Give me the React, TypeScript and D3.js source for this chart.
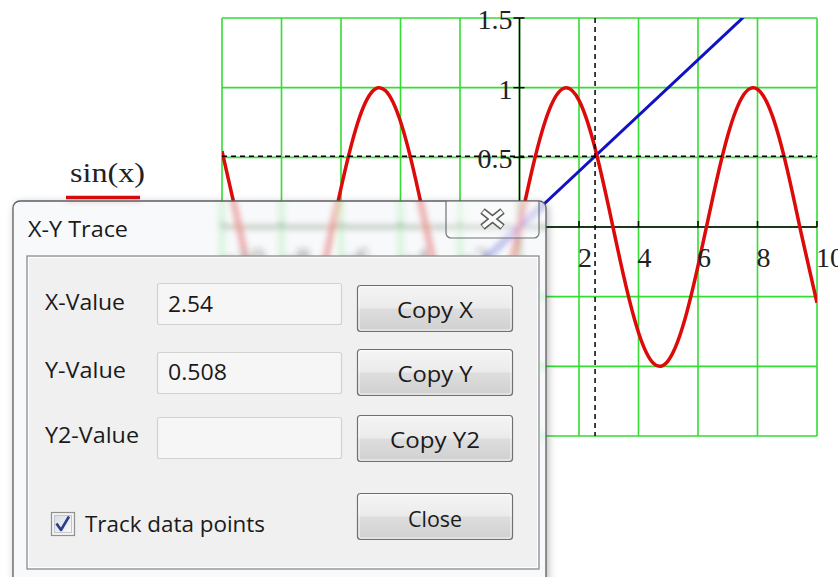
import React from "react";
import * as d3 from "d3";

const W = 838;
const H = 577;

// sin(x) samples
const sinX = [
  -10, -9.5, -9, -8.5, -8, -7.5, -7, -6.5, -6, -5.5, -5, -4.5, -4, -3.5, -3, -2.5, -2, -1.5, -1, -0.5,
  0, 0.5, 1, 1.5, 2, 2.5, 3, 3.5, 4, 4.5, 5, 5.5, 6, 6.5, 7, 7.5, 8, 8.5, 9, 9.5, 10,
];
const sinY = [
  0.544, 0.075, -0.412, -0.798, -0.989, -0.938, -0.657, -0.215, 0.279, 0.706, 0.959, 0.978, 0.757, 0.351,
  -0.141, -0.598, -0.909, -0.997, -0.841, -0.479, 0, 0.479, 0.841, 0.997, 0.909, 0.598, 0.141, -0.351,
  -0.757, -0.978, -0.959, -0.706, -0.279, 0.215, 0.657, 0.938, 0.989, 0.798, 0.412, -0.075, -0.544,
];

// straight line trace
const lineX = [-10, 10];
const lineY = [-2, 2];

const xTickValues = [-10, -8, -6, -4, -2, 0, 2, 4, 6, 8, 10];
const yTickValues = [-1.5, -1, -0.5, 0, 0.5, 1, 1.5];
const xLabelValues = [-10, -8, -6, -4, -2, 2, 4, 6, 8, 10];
const yLabelValues = [0.5, 1, 1.5];

const traceX = 2.54;
const traceY = 0.508;
const legendLabel = "sin(x)";

const fieldLabels = ["X-Value", "Y-Value", "Y2-Value"];
const fieldValues = ["2.54", "0.508", ""];
const buttonLabels = ["Copy X", "Copy Y", "Copy Y2"];
const closeLabel = "Close";
const checkLabel = "Track data points";
const dialogTitle = "X-Y Trace";

const SERIF = '"Liberation Serif", "Times New Roman", serif';
const UI = '"Open Sans", "Noto Sans", sans-serif';

export default function App() {
  const x = d3.scaleLinear().domain([-10, 10]).range([222, 817]);
  const y = d3.scaleLinear().domain([-1.5, 1.5]).range([436, 18]);

  const sinPath =
    d3
      .line<number>()
      .x((_, i) => x(sinX[i]))
      .y((d) => y(d))
      .curve(d3.curveNatural)(sinY) || "";
  const linePath =
    d3
      .line<number>()
      .x((_, i) => x(lineX[i]))
      .y((d) => y(d))(lineY) || "";

  const x0 = x(0);
  const y0 = y(0);
  const [xMin, xMax] = x.range();
  const [yBot, yTop] = y.range();

  // dialog geometry
  const dx = 13, dy = 201, dw = 533, dh = 420, r = 7;
  const px = 27, py = 256, pw = 512, ph = 313;
  const outerPath = `M${dx + r},${dy} H${dx + dw - r} A${r},${r} 0 0 1 ${dx + dw},${dy + r} V${dy + dh} H${dx} V${dy + r} A${r},${r} 0 0 1 ${dx + r},${dy} Z`;
  const framePath = `${outerPath} M${px},${py} H${px + pw} V${py + ph} H${px} Z`;

  const rowFieldY = [283, 352, 417];
  const rowButtonY = [285, 349, 415];
  const rowLabelBase = [310, 378, 443];
  const labelLens = [80, 81, 94];
  const valueLens = [45, 59, 0];
  const buttonLens = [76, 75, 90];

  const bx0 = 446, bx1 = 539, by0 = dy, by1 = 238, br = 5;
  const closeBtnPath = `M${bx0},${by0} V${by1 - br} A${br},${br} 0 0 0 ${bx0 + br},${by1} H${bx1 - br} A${br},${br} 0 0 0 ${bx1},${by1 - br} V${by0}`;
  const xc = (bx0 + bx1) / 2, yc = 219;

  return (
    <svg
      width={W}
      height={H}
      viewBox={`0 0 ${W} ${H}`}
      style={{ position: "absolute", left: 0, top: 0, background: "#fff" }}
    >
      <defs>
        <clipPath id="plotClip">
          <rect x={xMin} y={yTop} width={xMax - xMin} height={yBot - yTop} />
        </clipPath>
        <clipPath id="frameClip">
          <path d={framePath} clipRule="evenodd" />
        </clipPath>
        <filter id="glassBlur" x="-5%" y="-5%" width="110%" height="110%">
          <feGaussianBlur stdDeviation="3" />
        </filter>
        <filter id="dlgShadow" x="-10%" y="-10%" width="120%" height="120%">
          <feDropShadow dx="2" dy="2" stdDeviation="4" floodColor="#000" floodOpacity="0.3" />
        </filter>
        <linearGradient id="btnGrad" x1="0" y1="0" x2="0" y2="1">
          <stop offset="0" stopColor="#f5f5f5" />
          <stop offset="0.48" stopColor="#ebebeb" />
          <stop offset="0.52" stopColor="#dddddd" />
          <stop offset="1" stopColor="#d0d0d0" />
        </linearGradient>
        <linearGradient id="chkGrad" x1="0" y1="0" x2="1" y2="1">
          <stop offset="0" stopColor="#d8dde6" />
          <stop offset="1" stopColor="#f8f9fb" />
        </linearGradient>
      </defs>

      <rect x={0} y={0} width={W} height={H} fill="#fff" />

      <g id="plot">
        {/* grid */}
        <g stroke="#33dd33" strokeWidth={1.6}>
          {xTickValues.map((v) => (
            <line key={`gx${v}`} x1={x(v)} x2={x(v)} y1={yTop} y2={yBot} />
          ))}
          {yTickValues.map((v) => (
            <line key={`gy${v}`} x1={xMin} x2={xMax} y1={y(v)} y2={y(v)} />
          ))}
        </g>

        {/* axes */}
        <g stroke="#000" strokeWidth={1.5}>
          <line x1={xMin} x2={xMax} y1={y0} y2={y0} />
          <line x1={x0} x2={x0} y1={yTop} y2={yBot} />
          {xTickValues.map((v) => (
            <line key={`tx${v}`} x1={x(v)} x2={x(v)} y1={y0 - 6} y2={y0} />
          ))}
          {yTickValues.map((v) => (
            <line key={`ty${v}`} x1={x0 - 6} x2={x0 + 5} y1={y(v)} y2={y(v)} />
          ))}
        </g>

        {/* traces */}
        <g clipPath="url(#plotClip)" fill="none" strokeLinejoin="round">
          <path d={linePath} stroke="#1212c4" strokeWidth={3} />
          <path d={sinPath} stroke="#dd0a0a" strokeWidth={3.5} />
        </g>

        {/* trace crosshair */}
        <g stroke="#000" strokeWidth={1.5} strokeDasharray="5,4">
          <line x1={x(traceX)} x2={x(traceX)} y1={yTop} y2={yBot} />
          <line x1={xMin} x2={xMax} y1={y(traceY)} y2={y(traceY)} />
        </g>

        {/* tick labels */}
        <g fontFamily={SERIF} fontSize={28} fill="#222">
          {xLabelValues.map((v) => (
            <text key={`lx${v}`} x={x(v) - 1} y={y0 + 40} textAnchor="start">
              {d3.format("")(v)}
            </text>
          ))}
          {yLabelValues.map((v) => (
            <text key={`ly${v}`} x={x0 - 7} y={y(v) + 11} textAnchor="end">
              {d3.format("")(v)}
            </text>
          ))}
        </g>

        {/* legend */}
        <text
          x={70}
          y={182}
          fontFamily={SERIF}
          fontSize={28}
          fill="#222"
          textLength={75}
          lengthAdjust="spacingAndGlyphs"
        >
          {legendLabel}
        </text>
        <line x1={66} x2={140} y1={197.5} y2={197.5} stroke="#dd0a0a" strokeWidth={3.5} />
      </g>

      {/* X-Y Trace dialog */}
      <g>
        <path d={outerPath} fill="#f0f0f0" filter="url(#dlgShadow)" />
        <g clipPath="url(#frameClip)">
          <rect x={dx} y={dy} width={dw} height={dh} fill="#fff" />
          <use href="#plot" filter="url(#glassBlur)" />
          <rect x={dx} y={dy} width={dw} height={dh} fill="#eef1f4" opacity={0.45} />
        </g>
        <path d={outerPath} fill="none" stroke="#5c5f63" strokeWidth={1.3} />

        {/* close button */}
        <path d={closeBtnPath} fill="#fff" fillOpacity={0.25} stroke="#6f7276" strokeWidth={1.2} />
        <g strokeLinecap="butt">
          <g stroke="#5a5a5a" strokeWidth={7}>
            <line x1={xc - 10} y1={yc - 8} x2={xc + 10} y2={yc + 8} />
            <line x1={xc + 10} y1={yc - 8} x2={xc - 10} y2={yc + 8} />
          </g>
          <g stroke="#fafafa" strokeWidth={4}>
            <line x1={xc - 9.4} y1={yc - 7.5} x2={xc + 9.4} y2={yc + 7.5} />
            <line x1={xc + 9.4} y1={yc - 7.5} x2={xc - 9.4} y2={yc + 7.5} />
          </g>
        </g>

        <text
          x={28}
          y={237}
          fontFamily={UI}
          fontSize={21}
          fill="#1a1a1a"
          textLength={100}
          lengthAdjust="spacingAndGlyphs"
        >
          {dialogTitle}
        </text>

        {/* client panel */}
        <rect x={px} y={py} width={pw} height={ph} fill="#f0f0f0" stroke="#8b8e92" strokeWidth={1.3} />
        <rect
          x={px + 1.5}
          y={py + 1.5}
          width={pw - 3}
          height={ph - 3}
          fill="none"
          stroke="#fff"
          strokeWidth={1}
        />

        {fieldLabels.map((label, i) => (
          <g key={label}>
            <text
              x={45}
              y={rowLabelBase[i]}
              fontFamily={UI}
              fontSize={22}
              fill="#1a1a1a"
              textLength={labelLens[i]}
              lengthAdjust="spacingAndGlyphs"
            >
              {label}
            </text>
            <rect
              x={157.5}
              y={rowFieldY[i] + 0.5}
              width={184}
              height={41}
              rx={2}
              fill="#f6f6f6"
              stroke="#d2d2d2"
              strokeWidth={1.2}
            />
            {fieldValues[i] && (
              <text
                x={168}
                y={rowLabelBase[i] + 2}
                fontFamily={UI}
                fontSize={22}
                fill="#1a1a1a"
                textLength={valueLens[i]}
                lengthAdjust="spacingAndGlyphs"
              >
                {fieldValues[i]}
              </text>
            )}
            <rect
              x={357.5}
              y={rowButtonY[i] + 0.5}
              width={155}
              height={46}
              rx={3}
              fill="url(#btnGrad)"
              stroke="#707070"
              strokeWidth={1.2}
            />
            <rect
              x={359}
              y={rowButtonY[i] + 2}
              width={152}
              height={43}
              rx={2}
              fill="none"
              stroke="#fcfcfc"
              strokeOpacity={0.8}
            />
            <text
              x={435}
              y={rowButtonY[i] + 33}
              textAnchor="middle"
              fontFamily={UI}
              fontSize={22}
              fill="#1a1a1a"
              textLength={buttonLens[i]}
              lengthAdjust="spacingAndGlyphs"
            >
              {buttonLabels[i]}
            </text>
          </g>
        ))}

        {/* track checkbox */}
        <rect x={51.5} y={512.5} width={23} height={23} fill="#f4f4f4" stroke="#8e8f8f" strokeWidth={1.2} />
        <rect x={54.5} y={515.5} width={17} height={17} fill="url(#chkGrad)" stroke="#b9bcc2" strokeWidth={0.8} />
        <path
          d="M56.5,523.5 L61,530 L69,516.5"
          fill="none"
          stroke="#2c3e86"
          strokeWidth={2.6}
          strokeLinejoin="round"
        />
        <text
          x={85}
          y={532}
          fontFamily={UI}
          fontSize={22}
          fill="#1a1a1a"
          textLength={180}
          lengthAdjust="spacingAndGlyphs"
        >
          {checkLabel}
        </text>

        {/* close */}
        <rect x={357.5} y={493.5} width={155} height={46} rx={3} fill="url(#btnGrad)" stroke="#707070" strokeWidth={1.2} />
        <rect x={359} y={495} width={152} height={43} rx={2} fill="none" stroke="#fcfcfc" strokeOpacity={0.8} />
        <text
          x={435}
          y={527}
          textAnchor="middle"
          fontFamily={UI}
          fontSize={22}
          fill="#1a1a1a"
          textLength={54}
          lengthAdjust="spacingAndGlyphs"
        >
          {closeLabel}
        </text>
      </g>
    </svg>
  );
}
